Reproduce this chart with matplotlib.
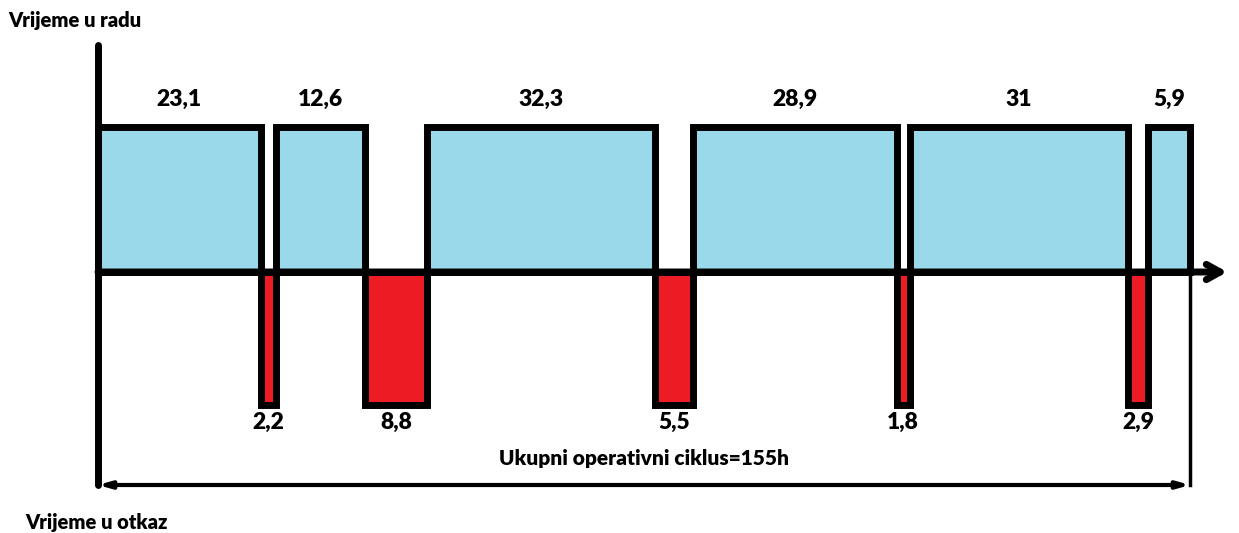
import matplotlib
matplotlib.use("Agg")
import matplotlib.pyplot as plt
import numpy as np

# trajanje u satima, redom kako se smjenjuju rad i otkaz
rad = [23.1, 12.6, 32.3, 28.9, 31, 5.9]
otkaz = [2.2, 8.8, 5.5, 1.8, 2.9]
rad_labels = ["23,1", "12,6", "32,3", "28,9", "31", "5,9"]
otkaz_labels = ["2,2", "8,8", "5,5", "1,8", "2,9"]
ukupno = 155

plt.rcParams['font.family'] = ['Lato', 'DejaVu Sans']

fig = plt.figure(figsize=(12.39, 5.33), dpi=100)
ax = fig.add_axes([0, 0, 1, 1])
ax.axis('off')

px = 1092 / ukupno
ax.set_xlim(-98 / px, (1239 - 98) / px)
ax.set_ylim((272 - 533) / 145, 272 / 145)

blue = "#99D9EA"
red = "#ED1C24"
lw = 5
down_h = 133 / 145

# slijed: rad, otkaz, rad, otkaz ...
seq = []
for i in range(len(rad)):
    seq.append(("r", rad[i], rad_labels[i]))
    if i < len(otkaz):
        seq.append(("o", otkaz[i], otkaz_labels[i]))

left = 0.0
for kind, w, lab in seq:
    if kind == "r":
        ax.bar(left, 1, width=w, align='edge', color=blue, edgecolor='black',
               linewidth=lw, zorder=2, joinstyle='miter')
        ax.text(left + w / 2, 1.19, lab, ha='center', va='center',
                fontsize=16.5, fontweight='heavy', zorder=5)
    else:
        ax.bar(left, -down_h, width=w, align='edge', color=red, edgecolor='black',
               linewidth=lw, zorder=2, joinstyle='miter')
        ax.text(left + w / 2, -1.04, lab, ha='center', va='center',
                fontsize=16.5, fontweight='heavy', zorder=5)
    left += w

dim_y = (272 - 485) / 145

# vertikalna os
ax.plot([0, 0], [(272 - 45) / 145, dim_y], color='black', lw=lw,
        solid_capstyle='round', zorder=4)
# desna granica ciklusa
ax.plot([ukupno, ukupno], [0, dim_y], color='black', lw=2.5, zorder=4)

# horizontalna os sa strelicom
ax.annotate("", xy=(160.3, 0), xytext=(0, 0),
            arrowprops=dict(arrowstyle="->,head_length=1.0,head_width=0.55",
                            color='black', lw=lw, shrinkA=0, shrinkB=0),
            zorder=4)

# ukupni ciklus
ax.annotate("", xy=(0, dim_y), xytext=(ukupno, dim_y),
            arrowprops=dict(arrowstyle="<->,head_length=0.7,head_width=0.2",
                            color='black', lw=3, shrinkA=0, shrinkB=0),
            zorder=4)
ax.text(ukupno / 2, (272 - 458) / 145, "Ukupni operativni ciklus=155h",
        ha='center', va='center', fontsize=15, fontweight='heavy')

ax.text(-90 / px, (272 - 20) / 145, "Vrijeme u radu", ha='left', va='center',
        fontsize=14.5, fontweight='heavy')
ax.text(-73 / px, (272 - 523) / 145, "Vrijeme u otkaz", ha='left', va='center',
        fontsize=14.5, fontweight='heavy')

fig.savefig("out.png", dpi=100)
